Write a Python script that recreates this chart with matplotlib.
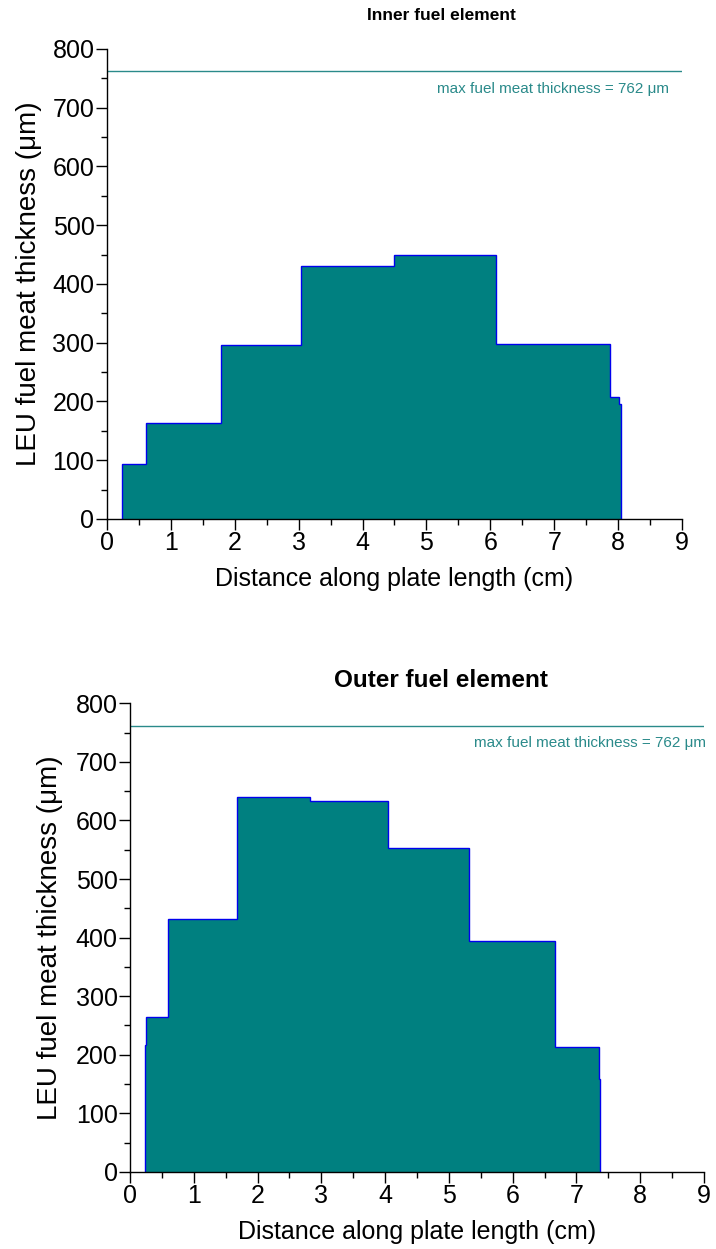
# coding: utf-8

"""
LEU fuel meat thickness along plate length, inner and outer element
"""

import matplotlib
matplotlib.use("Agg")
import matplotlib.pyplot as plt
from matplotlib.ticker import MultipleLocator

# Inner fuel element: step edges (cm) and thickness (um)
inner_edges = [0.23, 0.61, 1.78, 3.04, 4.50, 6.09, 7.88, 8.02, 8.05]
inner_thick = [93, 164, 296, 431, 449, 298, 208, 196]

# Outer fuel element
outer_edges = [0.23, 0.25, 0.60, 1.68, 2.82, 4.04, 5.31, 6.66, 7.35, 7.37]
outer_thick = [217, 265, 431, 640, 633, 553, 395, 214, 159]

max_thick = 762
titles = ["Inner fuel element", "Outer fuel element"]

plt.rcParams['font.family'] = ['Liberation Sans', 'DejaVu Sans']

FILL = "#008080"
EDGE = "#0000ee"
LINE = "#2a8a8a"


def draw(ax, edges, vals, note_x, ylab_x):
	ax.stairs(vals, edges, baseline=0, fill=True, facecolor=FILL,
		edgecolor=EDGE, linewidth=1.0, zorder=2)
	ax.axhline(max_thick, color=LINE, lw=1.0, zorder=1)
	ax.text(note_x, 732, "max fuel meat thickness = %d μm" % max_thick,
		ha="right", va="center", fontsize=11, color=LINE)

	ax.set_xlim(0, 9)
	ax.set_ylim(0, 800)
	ax.xaxis.set_major_locator(MultipleLocator(1))
	ax.xaxis.set_minor_locator(MultipleLocator(0.5))
	ax.yaxis.set_major_locator(MultipleLocator(100))
	ax.yaxis.set_minor_locator(MultipleLocator(50))
	ax.tick_params(which="major", direction="out", length=8, width=1, labelsize=18, pad=1)
	ax.tick_params(which="minor", direction="out", length=4, width=1)
	for s in ["top", "right"]:
		ax.spines[s].set_visible(False)
	for s in ["left", "bottom"]:
		ax.spines[s].set_linewidth(1.0)
		ax.spines[s].set_zorder(3)

	ax.set_xlabel("Distance along plate length (cm)", fontsize=18, labelpad=8)
	ax.set_ylabel("LEU fuel meat thickness (μm)", fontsize=20, va="center")
	ax.yaxis.set_label_coords(ylab_x, 0.5)


def main():
	fig = plt.figure(figsize=(7.16, 12.49), dpi=100)

	ax1 = fig.add_axes([0.1494, 0.5845, 0.8031, 0.3763])
	draw(ax1, inner_edges, inner_thick, 8.8, -0.135)
	fig.text(441 / 716, 1 - 15 / 1249, titles[0], ha="center", va="center",
		fontsize=12.5, fontweight="bold")

	ax2 = fig.add_axes([0.1816, 0.0617, 0.8017, 0.3752])
	draw(ax2, outer_edges, outer_thick, 9.03, -0.14)
	fig.text(441 / 716, 1 - 681 / 1249, titles[1], ha="center", va="center",
		fontsize=17.5, fontweight="bold")

	fig.savefig("out.png", dpi=100)


if __name__ == "__main__":
	main()
